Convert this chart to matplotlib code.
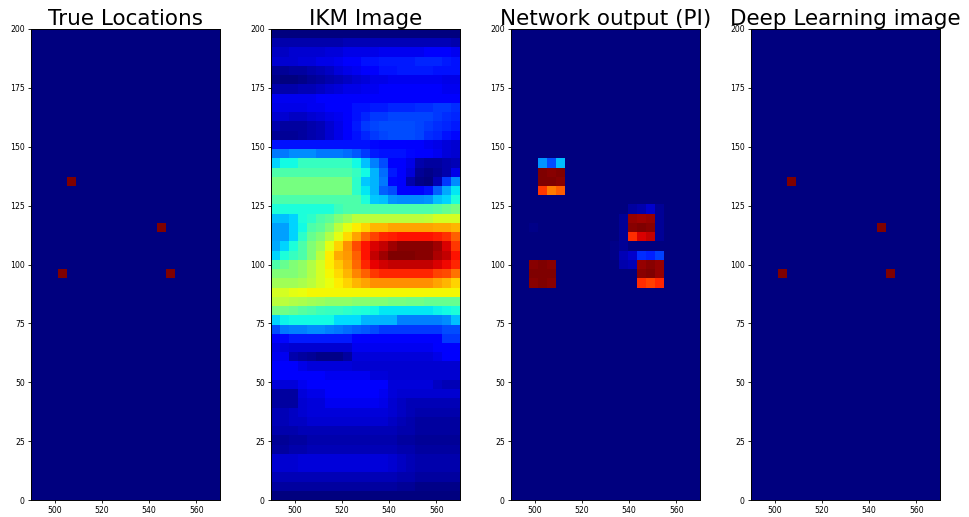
"""
4-panel comparison: true source locations, IKM image, network output, DL image.
Grid: x = 490..570 step 4 (21 cols), y = 0..200 step 4 (51 rows).
"""

import matplotlib
matplotlib.use("Agg")
import matplotlib.pyplot as plt
import numpy as np

X0, X1 = 490, 570
Y0, Y1 = 0, 200
STEP = 4
N_COLS = (X1 - X0) // STEP + 1   # 21
N_ROWS = (Y1 - Y0) // STEP + 1   # 51

TITLES = ["True Locations", "IKM Image", "Network output (PI)", "Deep Learning image"]

# true scatterer positions (grid coordinates)
TRUE_X = [502, 506, 546, 550]
TRUE_Y = [96, 136, 116, 96]
TRUE_V = [1, 1, 1, 1]

# deep learning image: same four pixels
DL_X = [502, 506, 546, 550]
DL_Y = [96, 136, 116, 96]
DL_V = [1, 1, 1, 1]

# network output (PI): non-zero pixels, percent
NET_X = [502, 506, 510, 502, 506, 510, 502, 506, 510, 502, 506, 510,
         498, 502, 506, 498, 502, 506, 498, 502, 506,
         542, 546, 550, 542, 546, 550, 542, 546, 550, 542, 546, 550,
         546, 550, 554, 546, 550, 554, 546, 550, 554,
         538, 542, 546, 550, 554, 538, 542,
         538, 538, 538, 538, 554, 554, 554, 554, 498, 534, 534]
NET_Y = [144, 144, 144, 140, 140, 140, 136, 136, 136, 132, 132, 132,
         100, 100, 100, 96, 96, 96, 92, 92, 92,
         124, 124, 124, 120, 120, 120, 116, 116, 116, 112, 112, 112,
         100, 100, 100, 96, 96, 96, 92, 92, 92,
         104, 104, 104, 104, 104, 100, 100,
         108, 112, 116, 120, 112, 116, 120, 124, 116, 104, 108]
NET_V = [27, 20, 31, 100, 99, 100, 100, 100, 99, 85, 78, 81,
         99, 100, 99, 100, 100, 100, 99, 100, 99,
         3, 4, 7, 98, 97, 98, 99, 100, 99, 86, 92, 94,
         98, 99, 98, 99, 100, 98, 86, 84, 87,
         5, 7, 17, 16, 19, 4, 5,
         2, 2, 2, 2, 2, 2, 2, 2, 1, 1, 1]

# IKM image, rows listed top (y=200) to bottom (y=0), percent of max
IKM_ROWS = [
    [0, 0, 0, 0, 0, 0, 0, 0, 0, 0, 0, 0, 0, 0, 0, 0, 0, 0, 0, 0, 0],
    [4, 4, 4, 4, 4, 4, 4, 4, 5, 5, 5, 5, 5, 5, 5, 5, 5, 5, 5, 5, 4],
    [6, 6, 7, 7, 7, 7, 8, 8, 9, 9, 9, 9, 10, 10, 10, 10, 10, 11, 11, 11, 10],
    [7, 7, 7, 8, 8, 9, 9, 10, 11, 11, 14, 14, 15, 15, 15, 15, 16, 16, 16, 15, 14],
    [2, 2, 3, 3, 4, 5, 6, 8, 9, 10, 11, 11, 14, 14, 15, 15, 15, 15, 14, 14, 14],
    [1, 0, 0, 1, 2, 3, 4, 5, 6, 7, 8, 9, 9, 10, 10, 10, 10, 10, 10, 9, 9],
    [4, 4, 4, 5, 5, 6, 7, 8, 9, 9, 10, 10, 11, 11, 11, 11, 11, 11, 11, 10, 10],
    [10, 10, 10, 10, 10, 11, 11, 11, 11, 11, 11, 11, 11, 11, 11, 11, 11, 11, 11, 11, 11],
    [9, 9, 9, 9, 10, 10, 11, 11, 11, 14, 14, 15, 15, 16, 16, 16, 17, 17, 18, 18, 17],
    [7, 7, 6, 6, 7, 8, 9, 10, 11, 14, 16, 18, 18, 19, 19, 19, 19, 19, 18, 17, 16],
    [4, 3, 3, 3, 4, 5, 7, 9, 11, 15, 18, 19, 20, 20, 20, 20, 19, 18, 17, 16, 15],
    [2, 2, 2, 3, 4, 5, 7, 9, 11, 14, 16, 18, 19, 20, 20, 20, 19, 17, 16, 14, 13],
    [14, 14, 14, 14, 14, 14, 14, 14, 14, 14, 14, 13, 12, 12, 12, 11, 11, 10, 9, 8, 7],
    [24, 24, 26, 26, 26, 24, 24, 24, 23, 21, 18, 15, 14, 14, 14, 13, 12, 11, 10, 8, 7],
    [33, 37, 37, 41, 41, 41, 41, 41, 41, 37, 31, 25, 20, 11, 11, 9, 4, 3, 3, 4, 5],
    [44, 44, 44, 44, 44, 44, 44, 44, 44, 41, 37, 30, 23, 15, 11, 8, 2, 1, 2, 4, 9],
    [49, 49, 49, 49, 49, 49, 49, 49, 49, 40, 32, 30, 24, 13, 11, 4, 1, 0, 5, 18, 26],
    [49, 49, 49, 49, 49, 49, 49, 49, 49, 40, 35, 30, 22, 20, 12, 11, 11, 14, 22, 29, 35],
    [44, 44, 44, 44, 44, 44, 44, 44, 44, 44, 38, 32, 31, 27, 26, 26, 26, 27, 31, 33, 38],
    [38, 38, 38, 38, 38, 38, 38, 42, 44, 44, 44, 44, 44, 44, 44, 44, 44, 44, 45, 47, 49],
    [31, 31, 33, 38, 40, 44, 46, 50, 53, 57, 57, 57, 57, 57, 57, 57, 57, 58, 60, 60, 60],
    [28, 28, 33, 37, 44, 46, 50, 57, 62, 65, 68, 71, 71, 73, 73, 73, 73, 73, 72, 72, 71],
    [28, 28, 33, 40, 47, 50, 56, 62, 67, 73, 79, 83, 86, 87, 88, 88, 88, 88, 87, 85, 80],
    [29, 33, 38, 44, 50, 54, 62, 68, 75, 82, 88, 91, 93, 96, 98, 98, 98, 98, 96, 91, 84],
    [33, 38, 41, 44, 50, 57, 65, 72, 74, 80, 88, 93, 96, 99, 99, 99, 98, 98, 95, 93, 88],
    [44, 47, 50, 52, 56, 60, 65, 69, 73, 79, 86, 90, 92, 93, 93, 93, 93, 93, 91, 89, 86],
    [50, 50, 50, 52, 56, 60, 64, 67, 71, 76, 80, 84, 86, 86, 86, 86, 86, 86, 83, 82, 78],
    [54, 54, 54, 55, 57, 60, 63, 65, 68, 71, 73, 75, 75, 75, 75, 75, 75, 75, 73, 71, 68],
    [60, 60, 62, 63, 64, 64, 64, 64, 64, 64, 64, 64, 64, 64, 64, 64, 64, 64, 64, 64, 64],
    [57, 57, 56, 55, 54, 53, 52, 52, 52, 51, 51, 50, 50, 49, 49, 48, 48, 47, 47, 47, 47],
    [49, 48, 47, 45, 44, 42, 41, 41, 40, 39, 38, 37, 35, 35, 35, 35, 35, 35, 36, 37, 38],
    [33, 36, 37, 37, 37, 37, 37, 34, 34, 34, 30, 30, 30, 30, 25, 25, 25, 25, 25, 26, 31],
    [20, 24, 25, 25, 26, 26, 25, 24, 23, 22, 21, 20, 18, 18, 18, 18, 18, 18, 18, 20, 20],
    [12, 13, 15, 15, 15, 15, 15, 15, 15, 12, 11, 11, 11, 11, 11, 11, 11, 11, 11, 18, 18],
    [9, 8, 7, 7, 7, 7, 7, 7, 7, 10, 10, 10, 10, 10, 10, 10, 10, 10, 11, 11, 11],
    [10, 10, 4, 3, 2, 1, 1, 1, 3, 8, 8, 8, 8, 8, 8, 8, 8, 8, 9, 11, 11],
    [11, 11, 11, 9, 8, 8, 8, 8, 8, 7, 7, 7, 7, 7, 7, 7, 7, 7, 7, 7, 7],
    [11, 11, 11, 11, 11, 11, 10, 10, 10, 10, 10, 8, 8, 7, 7, 7, 7, 7, 7, 7, 7],
    [8, 8, 8, 10, 11, 11, 11, 11, 11, 11, 11, 11, 11, 8, 8, 8, 8, 8, 6, 5, 5],
    [3, 3, 3, 8, 9, 9, 11, 11, 11, 11, 11, 11, 10, 8, 7, 7, 7, 7, 7, 7, 7],
    [3, 3, 3, 7, 8, 8, 10, 10, 10, 10, 10, 10, 9, 7, 6, 5, 5, 5, 5, 5, 5],
    [5, 5, 6, 7, 8, 8, 8, 8, 8, 8, 8, 8, 8, 7, 6, 5, 4, 4, 4, 4, 4],
    [5, 5, 6, 6, 7, 7, 7, 7, 7, 7, 7, 7, 7, 6, 5, 4, 3, 3, 3, 3, 3],
    [4, 4, 4, 5, 5, 5, 5, 5, 5, 5, 5, 5, 5, 5, 4, 4, 3, 3, 3, 3, 3],
    [2, 2, 3, 3, 4, 4, 4, 4, 4, 4, 4, 4, 4, 4, 3, 3, 2, 2, 2, 2, 2],
    [3, 3, 4, 4, 5, 5, 5, 5, 5, 5, 5, 5, 5, 5, 4, 4, 3, 3, 3, 3, 3],
    [7, 7, 7, 8, 8, 8, 8, 8, 8, 8, 8, 8, 8, 7, 6, 5, 4, 4, 4, 4, 4],
    [7, 7, 7, 8, 8, 8, 8, 8, 8, 8, 8, 8, 8, 7, 6, 5, 4, 4, 4, 4, 4],
    [5, 5, 5, 5, 5, 5, 5, 5, 5, 5, 5, 5, 5, 5, 4, 4, 3, 3, 3, 3, 3],
    [3, 3, 3, 3, 3, 3, 3, 3, 3, 3, 3, 3, 3, 3, 2, 2, 1, 1, 1, 1, 1],
    [0, 0, 0, 0, 0, 0, 0, 0, 0, 0, 0, 0, 0, 0, 0, 0, 0, 0, 0, 0, 0],
]

XTICKS = [500, 520, 540, 560]
YTICKS = [0, 25, 50, 75, 100, 125, 150, 175, 200]


def grid_from_points(xs, ys, vs):
    img = np.zeros((N_ROWS, N_COLS))
    for x, y, v in zip(xs, ys, vs):
        img[(y - Y0) // STEP, (x - X0) // STEP] = v
    return img


def main() -> None:
    fig = plt.figure(figsize=(9.7, 5.17), dpi=100)
    fig.patch.set_facecolor("white")

    images = [
        (grid_from_points(TRUE_X, TRUE_Y, TRUE_V), "lower"),
        (np.array(IKM_ROWS, dtype=float), "upper"),
        (grid_from_points(NET_X, NET_Y, NET_V), "lower"),
        (grid_from_points(DL_X, DL_Y, DL_V), "lower"),
    ]

    lefts = [31, 271, 511, 751]
    for left, title, (img, origin) in zip(lefts, TITLES, images):
        ax = fig.add_axes([left / 970, 17 / 517, 189 / 970, 471 / 517])
        ax.imshow(img, cmap="jet", origin=origin, aspect="auto",
                  interpolation="nearest", extent=[X0, X1, Y0, Y1])
        ax.set_xlim(X0, X1)
        ax.set_ylim(Y0, Y1)
        ax.set_xticks(XTICKS)
        ax.set_yticks(YTICKS)
        ax.tick_params(labelsize=5.6, length=2.5, width=0.6, pad=2)
        for sp in ax.spines.values():
            sp.set_linewidth(0.7)
        ax.set_title(title, fontsize=15.5, pad=3)

    fig.savefig("out.png", dpi=100, facecolor="white")
    plt.close(fig)


if __name__ == "__main__":
    main()
